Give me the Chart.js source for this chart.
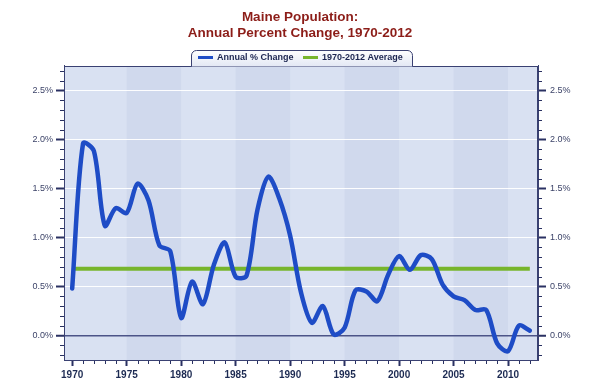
<!DOCTYPE html>
<html>
<head>
<meta charset="utf-8">
<script src="https://cdn.jsdelivr.net/npm/chart.js@4.4.0/dist/chart.umd.min.js"></script>
<style>
html, body { margin: 0; padding: 0; background: #fff; }
</style>
</head>
<body>
<canvas id="myChart" width="600" height="385"></canvas>
<script>
// Maine population, annual % change
years = [1970, 1971, 1972, 1973, 1974, 1975, 1976, 1977, 1978, 1979,
    1980, 1981, 1982, 1983, 1984, 1985, 1986, 1987, 1988, 1989,
    1990, 1991, 1992, 1993, 1994, 1995, 1996, 1997, 1998, 1999,
    2000, 2001, 2002, 2003, 2004, 2005, 2006, 2007, 2008, 2009,
    2010, 2011, 2012]
annualChange = [0.48, 1.96, 1.88, 1.12, 1.30, 1.25, 1.55, 1.38, 0.92, 0.86,
    0.18, 0.55, 0.32, 0.72, 0.95, 0.60, 0.61, 1.28, 1.62, 1.40,
    1.02, 0.44, 0.13, 0.30, 0.01, 0.08, 0.46, 0.45, 0.35, 0.62,
    0.81, 0.67, 0.82, 0.78, 0.52, 0.40, 0.36, 0.26, 0.26, -0.08,
    -0.16, 0.10, 0.05]
averageYears = [1970, 2012]
averageValue = 0.68

xTicks = [1970, 1975, 1980, 1985, 1990, 1995, 2000, 2005, 2010]
yTicks = [0, 0.5, 1, 1.5, 2, 2.5]
bandStarts = [1975, 1985, 1995, 2005]   // darker 5-year bands

var FONT = '"Liberation Sans", Arial, sans-serif';
var NAVY = '#2a3162';

var plotBackground = {
    id: 'plotBackground',
    beforeDraw: function (chart) {
        var c = chart.ctx, a = chart.chartArea, xs = chart.scales.x;
        c.save();
        c.fillStyle = '#d9e1f2';
        c.fillRect(a.left, a.top, a.right - a.left, a.bottom - a.top);
        c.fillStyle = '#d0d9ed';
        bandStarts.forEach(function (s) {
            var x0 = xs.getPixelForValue(s), x1 = xs.getPixelForValue(s + 5);
            c.fillRect(x0, a.top, x1 - x0, a.bottom - a.top);
        });
        c.restore();
    }
};

var extras = {
    id: 'extras',
    afterDraw: function (chart) {
        var c = chart.ctx, a = chart.chartArea;
        var xs = chart.scales.x, ys = chart.scales.y;
        c.save();
        // minor ticks
        c.strokeStyle = NAVY;
        c.lineWidth = 1;
        c.beginPath();
        for (var k = -2; k <= 27; k++) {
            if (k % 5 === 0) continue;
            var py = Math.round(ys.getPixelForValue(k / 10)) + 0.5;
            c.moveTo(a.left - 4, py); c.lineTo(a.left, py);
            c.moveTo(a.right, py); c.lineTo(a.right + 4, py);
        }
        for (var yr = years[0]; yr <= years[years.length - 1]; yr++) {
            if (yr % 5 === 0) continue;
            var px = Math.round(xs.getPixelForValue(yr)) + 0.5;
            c.moveTo(px, a.bottom); c.lineTo(px, a.bottom + 4);
        }
        c.stroke();
        // plot frame
        c.strokeStyle = '#3a4172';
        c.strokeRect(Math.round(a.left) + 0.5, Math.round(a.top) + 0.5,
            Math.round(a.right - a.left) - 1, Math.round(a.bottom - a.top));

        // legend tab
        var l = 191, r = 413, t = 50, b = Math.round(a.top) + 0.5, rad = 5;
        c.beginPath();
        c.moveTo(l + 0.5, b);
        c.lineTo(l + 0.5, t + rad);
        c.arcTo(l + 0.5, t + 0.5, l + rad, t + 0.5, rad);
        c.lineTo(r - rad, t + 0.5);
        c.arcTo(r - 0.5, t + 0.5, r - 0.5, t + rad, rad);
        c.lineTo(r - 0.5, b);
        var g = c.createLinearGradient(0, t, 0, b);
        g.addColorStop(0, '#ffffff');
        g.addColorStop(1, '#e3e8f4');
        c.fillStyle = g;
        c.fill();
        c.strokeStyle = '#3a4172';
        c.stroke();

        var items = [{ x: 198, ds: chart.data.datasets[0] }, { x: 303, ds: chart.data.datasets[1] }];
        c.font = 'bold 9px ' + FONT;
        c.textBaseline = 'middle';
        items.forEach(function (it) {
            c.strokeStyle = it.ds.borderColor;
            c.lineWidth = 3;
            c.beginPath();
            c.moveTo(it.x, 57.5); c.lineTo(it.x + 15, 57.5);
            c.stroke();
            c.fillStyle = '#1c2550';
            c.fillText(it.ds.label, it.x + 19, 58);
        });
        c.restore();
    }
};

function pairs(xv, yv) {
    return xv.map(function (x, i) { return { x: x, y: Array.isArray(yv) ? yv[i] : yv }; });
}

function yAxis(pos, width, pad) {
    return {
        type: 'linear',
        position: pos,
        min: -0.25,
        max: 2.75,
        afterBuildTicks: function (s) { s.ticks = yTicks.map(function (v) { return { value: v }; }); },
        afterFit: function (s) { s.width = width; },
        ticks: {
            callback: function (v) { return v.toFixed(1) + '%'; },
            font: { family: FONT, size: 9 },
            color: '#3c4368',
            padding: pad
        },
        grid: {
            drawOnChartArea: pos === 'left',
            color: function (ctx) { return ctx.tick && ctx.tick.value === 0 ? '#4c5488' : 'rgba(255,255,255,0.95)'; },
            lineWidth: function (ctx) { return ctx.tick && ctx.tick.value === 0 ? 1.5 : 1; },
            tickLength: 8,
            tickWidth: 2,
            tickColor: NAVY
        },
        border: { color: '#3a4172', width: 1 }
    };
}

var ctx = document.getElementById('myChart').getContext('2d');
var myChart = new Chart(ctx, {
    type: 'line',
    data: {
        datasets: [{
            label: 'Annual % Change',
            data: pairs(years, annualChange),
            borderColor: '#1e4cc6',
            borderWidth: 4.5,
            pointRadius: 0,
            tension: 0.3,
            borderCapStyle: 'round',
            borderJoinStyle: 'round'
        }, {
            label: '1970-2012 Average',
            data: pairs(averageYears, averageValue),
            borderColor: '#77b52c',
            borderWidth: 4,
            pointRadius: 0
        }]
    },
    options: {
        responsive: false,
        animation: false,
        layout: { padding: 0 },
        plugins: {
            legend: { display: false },
            tooltip: { enabled: false },
            title: {
                display: true,
                text: ['Maine Population:', 'Annual Percent Change, 1970-2012'],
                color: '#8c1d18',
                font: { family: FONT, size: 13.5, weight: 'bold', lineHeight: 1.185 },
                padding: { top: 9.5, bottom: 24.5 }
            }
        },
        scales: {
            x: {
                type: 'linear',
                min: 1969.25,
                max: 2012.75,
                afterBuildTicks: function (s) { s.ticks = xTicks.map(function (v) { return { value: v }; }); },
                afterFit: function (s) { s.height = 25; },
                ticks: {
                    autoSkip: false,
                    maxRotation: 0,
                    callback: function (v) { return String(v); },
                    font: { family: FONT, size: 10, weight: 'bold' },
                    color: '#1c2a52',
                    padding: 3
                },
                grid: {
                    drawOnChartArea: false,
                    tickLength: 6,
                    tickWidth: 2,
                    tickColor: NAVY
                },
                border: { color: '#3a4172', width: 1 }
            },
            y: yAxis('left', 64, 3),
            y2: yAxis('right', 62, 4)
        }
    },
    plugins: [plotBackground, extras]
});
</script>
</body>
</html>
